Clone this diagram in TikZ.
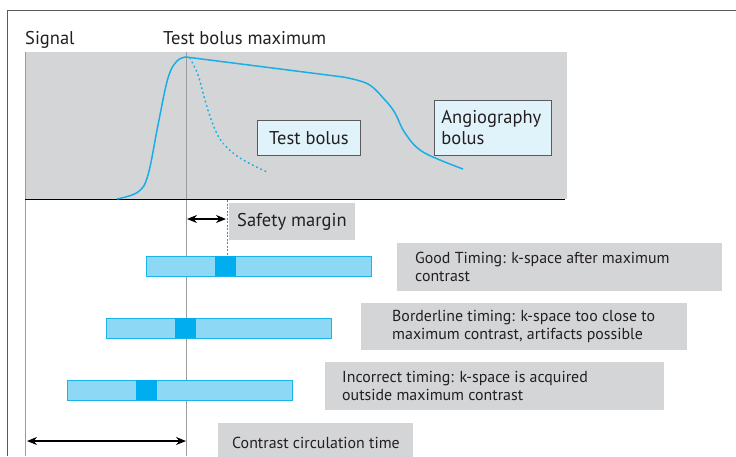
\documentclass[tikz,border=0pt]{standalone}
\usepackage{fontspec}
\setmainfont{PT Sans}
\usepackage{tikz}
\usetikzlibrary{arrows.meta, calc, positioning}

\definecolor{plotgray}{HTML}{D4D5D7}
\definecolor{framegray}{HTML}{5A5A5C}
\definecolor{linegray}{HTML}{9A9B9D}
\definecolor{curveblue}{HTML}{1AAEE6}
\definecolor{barfill}{HTML}{8DD8F5}
\definecolor{barline}{HTML}{1AB4EB}
\definecolor{kcenter}{HTML}{00ADEF}
\definecolor{labelblue}{HTML}{E0F3FB}
\definecolor{inkgray}{HTML}{231F20}

\begin{document}
\begin{tikzpicture}[x=1pt, y=-1pt, >={Stealth[length=10pt, width=8pt]},
    every node/.style={font=\fontsize{18.5}{21}\selectfont, text=inkgray},
    graybox/.style={fill=plotgray, anchor=north west, inner sep=0pt},
    boxtext/.style={font=\fontsize{15.9}{18}\selectfont, anchor=west, align=left, inner sep=0pt},
    curvelabel/.style={fill=labelblue, draw=framegray, line width=0.8pt, anchor=north west, inner sep=0pt},
    kbar/.style={fill=barfill, draw=barline, line width=0.8pt, anchor=north west, minimum width=225pt, minimum height=20pt, inner sep=0pt},
    kmid/.style={fill=kcenter, anchor=north west, minimum width=21pt, minimum height=20pt, inner sep=0pt},
    dimarrow/.style={<->, line width=1.3pt, black}]

        \clip (0,0) rectangle (736,456);

        % --- Frame ---
        \draw[framegray, line width=0.9pt] (7,456) -- (7,10) -- (736,10);

        % --- Signal plot area ---
        \fill[plotgray] (25,52) rectangle (567,199);
        \draw[linegray, line width=0.9pt] (25,52) -- (25,456);
        \draw[linegray, line width=0.9pt] (186,52) -- (186,456);
        \draw[black, line width=0.9pt] (25,199) -- (565,199);

        % Titles
        \node[anchor=base west, inner sep=0pt] (signal) at (25,44) {Signal};
        \node[anchor=base west, inner sep=0pt] (maxlabel) at (163,44) {Test bolus maximum};

        % Angiography bolus curve
        \draw[curveblue, line width=1.5pt] plot[smooth, tension=0.6] coordinates
            {(117,199) (138,192) (148,175) (158,125) (168,78) (177,61) (186,57)}
            -- (343,77)
            plot[smooth, tension=0.6] coordinates
            {(343,77) (368,84) (385,100) (395,113) (405,133) (423,152) (463,169)};

        % Test bolus curve
        \draw[curveblue, line width=1.6pt, line cap=round, dash pattern=on 0.8pt off 3.8pt] plot[smooth, tension=0.6] coordinates
            {(190,58) (198,75) (205,100) (212,122) (222,142) (240,158) (267,172)};

        % Curve labels
        \node[curvelabel, minimum width=103pt, minimum height=35pt] (testbolus) at (257,120) {Test bolus};
        \node[curvelabel, minimum width=117pt, minimum height=55pt, align=left, text width=103pt, inner xsep=7pt] (angiobolus) at (434,100) {Angiography\\bolus};

        % --- Safety margin ---
        \coordinate (peak) at (187,219);
        \coordinate (margin) at (226,219);
        \draw[dimarrow] (peak) -- (margin);
        \node[graybox, minimum width=126pt, minimum height=37pt] (safety) at (229,203) {};
        \node[anchor=west, inner sep=0pt] (safetytext) at ([xshift=8pt]safety.west) {Safety margin};

        % --- k-space bars ---
        \foreach \x/\y [count=\i] in {146/256, 106/318, 67/380} {
            \node[kbar] (bar\i) at (\x,\y) {};
            \node[kmid] (mid\i) at (\x+69,\y) {};
        }
        \draw[linegray!80!black, line width=0.6pt, dash pattern=on 2pt off 1.5pt] (227,200) -- (227,256);

        % Timing labels
        \node[graybox, minimum width=325pt, minimum height=48pt] (good) at (397,243) {};
        \node[boxtext] (goodtext) at ([xshift=18pt]good.west)
            {Good Timing: k-space after maximum\\contrast};
        \node[graybox, minimum width=326pt, minimum height=47pt] (borderline) at (361,303) {};
        \node[boxtext] (borderlinetext) at ([xshift=31pt]borderline.west)
            {Borderline timing: k-space too close to\\maximum contrast, artifacts possible};
        \node[graybox, minimum width=339pt, minimum height=48pt] (incorrect) at (325,362) {};
        \node[boxtext] (incorrecttext) at ([xshift=17pt]incorrect.west)
            {Incorrect timing: k-space is acquired\\outside maximum contrast};

        % --- Contrast circulation time ---
        \coordinate (origin) at (27,441);
        \coordinate (arrival) at (186,441);
        \draw[dimarrow] (origin) -- (arrival);
        \node[graybox, minimum width=195pt, minimum height=40pt] (circulation) at (218,423) {};
        \node[boxtext, anchor=base west] (circulationtext) at (232,448) {Contrast circulation time};

    \end{tikzpicture}
\end{document}
